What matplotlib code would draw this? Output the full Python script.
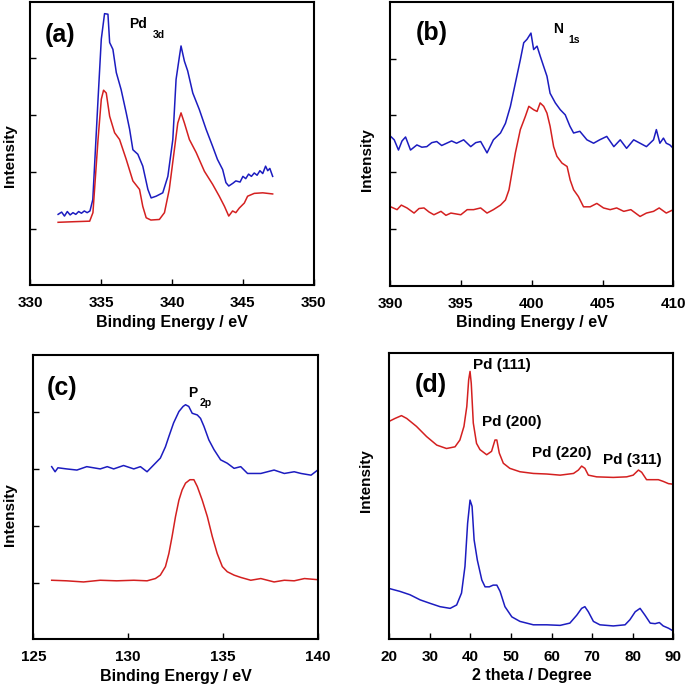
import numpy as np
import matplotlib.pyplot as plt

plt.rcParams['font.family'] = ['Liberation Sans', 'DejaVu Sans']
plt.rcParams['font.weight'] = 'bold'

BLUE = '#1c1cc0'
RED = '#d42020'

# (a) Pd 3d XPS
pd_blue_x = [331.95, 332.2, 332.4, 332.6, 332.8, 333.0, 333.2, 333.4, 333.6, 333.8, 334.0, 334.2,
             334.4, 334.77, 335.0, 335.23, 335.47, 335.59, 335.82, 336.06, 336.4, 336.76, 337.0,
             337.23, 337.58, 337.93, 338.29, 338.52, 338.87, 339.34, 339.7, 340.05, 340.28, 340.52,
             340.63, 340.87, 341.1, 341.46, 341.92, 342.4, 342.86, 343.2, 343.57, 343.8, 344.0,
             344.3, 344.5, 344.8, 345.0, 345.2, 345.4, 345.6, 345.8, 346.0, 346.2, 346.4, 346.6,
             346.75, 346.9, 347.1]
pd_blue_y = [1.25, 1.29, 1.22, 1.30, 1.24, 1.28, 1.25, 1.30, 1.27, 1.31, 1.28, 1.31,
             1.51, 3.28, 4.34, 4.79, 4.78, 4.28, 4.16, 3.75, 3.45, 3.04, 2.75,
             2.39, 2.31, 2.10, 1.69, 1.54, 1.57, 1.63, 1.92, 2.57, 3.63, 4.04,
             4.22, 3.95, 3.78, 3.39, 3.10, 2.75, 2.45, 2.22, 2.04, 1.81, 1.75,
             1.80, 1.84, 1.82, 1.92, 1.88, 1.96, 1.92, 1.98, 1.94, 2.02, 1.97, 2.10,
             2.02, 2.06, 1.92]
pd_red_x = [331.95, 333.0, 334.18, 334.41, 334.77, 335.0, 335.16, 335.35, 335.59, 335.94, 336.29,
            336.76, 337.23, 337.7, 337.93, 338.17, 338.5, 339.1, 339.46, 339.8, 340.16, 340.4,
            340.63, 340.87, 341.22, 341.7, 342.28, 342.86, 343.33, 343.7, 344.0, 344.27, 344.5,
            344.74, 345.1, 345.33, 345.8, 346.4, 347.1]
pd_red_y = [1.11, 1.12, 1.13, 1.28, 2.57, 3.28, 3.44, 3.39, 2.98, 2.69, 2.57,
            2.22, 1.84, 1.69, 1.39, 1.19, 1.15, 1.16, 1.28, 1.69, 2.39, 2.86,
            3.04, 2.86, 2.57, 2.34, 2.01, 1.78, 1.57, 1.39, 1.22, 1.31, 1.28,
            1.36, 1.45, 1.57, 1.62, 1.63, 1.61]

# (b) N 1s XPS
n_blue_x = [390.05, 390.3, 390.6, 390.85, 391.1, 391.45, 391.9, 392.25, 392.6, 392.95, 393.3, 393.65,
            394.0, 394.35, 394.7, 395.2, 395.7, 396.05, 396.4, 396.85, 397.3, 397.8, 398.15, 398.5,
            398.85, 399.2, 399.44, 399.67, 399.95, 400.14, 400.38, 400.61, 400.85, 401.08, 401.3,
            401.67, 402.02, 402.37, 402.7, 402.96, 403.4, 403.9, 404.37, 404.8, 405.3, 405.8,
            406.25, 406.7, 407.2, 407.65, 408.1, 408.6, 408.8, 409.05, 409.3, 409.5, 409.75, 410.0]
n_blue_y = [2.63, 2.57, 2.39, 2.55, 2.62, 2.39, 2.48, 2.44, 2.45, 2.52, 2.54, 2.47,
            2.51, 2.55, 2.51, 2.57, 2.45, 2.52, 2.54, 2.34, 2.57, 2.69, 2.86, 3.16,
            3.57, 3.98, 4.28, 4.34, 4.45, 4.16, 4.22, 4.04, 3.86, 3.69, 3.39,
            3.22, 3.10, 3.01, 2.81, 2.69, 2.72, 2.57, 2.51, 2.57, 2.63, 2.45,
            2.57, 2.42, 2.57, 2.51, 2.45, 2.57, 2.75, 2.51, 2.60, 2.51, 2.48, 2.42]
n_red_x = [390.05, 390.5, 390.8, 391.2, 391.7, 392.05, 392.4, 392.75, 393.1, 393.6, 393.95, 394.3,
           395.0, 395.45, 395.9, 396.4, 396.85, 397.3, 397.8, 398.15, 398.4, 398.6, 398.85, 399.2,
           399.55, 399.8, 400.14, 400.38, 400.6, 400.85, 401.08, 401.3, 401.55, 401.78, 402.14,
           402.5, 402.72, 402.96, 403.3, 403.66, 404.13, 404.6, 405.07, 405.54, 406.0, 406.5,
           407.0, 407.65, 408.1, 408.6, 409.0, 409.5, 410.0]
n_red_y = [1.39, 1.34, 1.42, 1.37, 1.28, 1.36, 1.37, 1.30, 1.25, 1.31, 1.24, 1.28,
           1.25, 1.34, 1.34, 1.37, 1.28, 1.34, 1.42, 1.51, 1.69, 1.98, 2.34, 2.75,
           2.98, 3.16, 3.10, 3.07, 3.22, 3.16, 3.04, 2.81, 2.45, 2.28, 2.16,
           2.10, 1.86, 1.69, 1.57, 1.39, 1.39, 1.45, 1.37, 1.34, 1.37, 1.31,
           1.34, 1.22, 1.28, 1.31, 1.37, 1.28, 1.34]

# (c) P 2p XPS
p_blue_x = [125.97, 126.15, 126.3, 126.76, 127.3, 127.82, 128.53, 128.9, 129.24, 129.76, 130.3,
            130.65, 131.0, 131.35, 131.7, 131.97, 132.15, 132.4, 132.68, 132.9, 133.03, 133.2,
            133.38, 133.65, 133.82, 134.0, 134.26, 134.53, 134.88, 135.23, 135.59, 135.94, 136.3,
            136.65, 137.0, 137.7, 138.24, 138.76, 139.12, 139.65, 140.0]
p_blue_y = [3.04, 2.95, 3.02, 3.00, 2.98, 3.04, 3.00, 3.04, 3.00, 3.06, 3.00,
            3.04, 2.95, 3.07, 3.19, 3.39, 3.57, 3.81, 4.01, 4.10, 4.13, 4.10,
            3.98, 3.95, 3.89, 3.75, 3.51, 3.34, 3.16, 3.10, 3.01, 3.04, 2.92,
            2.92, 2.92, 2.98, 2.92, 2.95, 2.92, 2.89, 2.98]
p_red_x = [125.97, 126.76, 127.65, 128.53, 129.4, 130.3, 131.0, 131.44, 131.7, 131.97, 132.15,
           132.32, 132.5, 132.68, 132.85, 133.03, 133.26, 133.47, 133.65, 133.91, 134.18, 134.44,
           134.7, 134.97, 135.23, 135.59, 135.94, 136.47, 137.0, 137.7, 138.24, 138.76, 139.3,
           140.0]
p_red_y = [1.04, 1.03, 1.01, 1.04, 1.03, 1.04, 1.03, 1.07, 1.13, 1.28, 1.51,
           1.81, 2.16, 2.45, 2.63, 2.75, 2.81, 2.81, 2.69, 2.45, 2.16, 1.81,
           1.51, 1.28, 1.19, 1.13, 1.09, 1.04, 1.07, 1.01, 1.04, 1.03, 1.07,
           1.05]

# (d) XRD
xrd_red_x = [20.0, 21.4, 23.0, 24.3, 26.7, 29.2, 31.7, 34.1, 36.2, 37.4, 38.4, 39.1, 39.56, 39.9,
             40.2, 40.7, 41.5, 42.35, 44.0, 45.2, 46.05, 46.5, 47.1, 48.1, 49.7, 52.2, 55.5,
             58.8, 62.1, 65.4, 66.6, 67.4, 68.2, 69.05, 71.1, 75.2, 78.5, 80.1, 81.4, 82.2,
             83.4, 85.5, 86.3, 87.5, 88.8, 90.0]
xrd_red_y = [3.84, 3.89, 3.94, 3.89, 3.75, 3.57, 3.42, 3.36, 3.39, 3.51, 3.75, 4.10, 4.57, 4.72,
             4.51, 3.81, 3.45, 3.34, 3.25, 3.31, 3.51, 3.51, 3.28, 3.10, 3.01, 2.95, 2.92,
             2.91, 2.89, 2.92, 2.98, 3.05, 3.01, 2.89, 2.86, 2.85, 2.86, 2.89, 2.98, 2.94,
             2.81, 2.81, 2.81, 2.78, 2.74, 2.73]
xrd_blue_x = [20.0, 22.6, 25.1, 27.6, 30.0, 32.5, 35.0, 36.6, 37.8, 38.65, 39.3, 39.9, 40.4, 40.9,
              41.7, 42.8, 43.6, 44.65, 45.6, 46.5, 47.3, 48.5, 50.2, 52.2, 55.5, 58.8, 62.1,
              64.5, 66.2, 67.4, 68.2, 69.05, 70.3, 71.9, 75.2, 78.1, 79.3, 80.6, 81.8, 83.0,
              84.3, 85.5, 86.55, 87.5, 88.8, 90.0]
xrd_blue_y = [0.89, 0.84, 0.78, 0.69, 0.63, 0.57, 0.54, 0.60, 0.81, 1.28, 2.04, 2.45, 2.34, 1.75,
              1.39, 1.04, 0.92, 0.92, 0.95, 0.95, 0.84, 0.57, 0.39, 0.31, 0.25, 0.25, 0.24,
              0.28, 0.42, 0.54, 0.57, 0.48, 0.31, 0.25, 0.23, 0.25, 0.34, 0.48, 0.54, 0.42,
              0.28, 0.27, 0.29, 0.23, 0.19, 0.14]

xrd_labels = ['Pd (111)', 'Pd (200)', 'Pd (220)', 'Pd (311)']

fig = plt.figure(figsize=(6.85, 6.89), dpi=100)
ax_a = fig.add_axes([0.0445, 0.586, 0.4135, 0.4115])
ax_b = fig.add_axes([0.5693, 0.5853, 0.4137, 0.412])
ax_c = fig.add_axes([0.0486, 0.0721, 0.4152, 0.4122])
ax_d = fig.add_axes([0.5683, 0.0726, 0.4147, 0.4155])


def style(ax, xlim, xticks, ylab_pos, ylim=(0, 5.0), yticks=(1, 2, 3, 4),
          xlabel='Binding Energy / eV'):
    ax.set_xlim(*xlim)
    ax.set_ylim(*ylim)
    ax.set_xticks(xticks)
    ax.set_yticks(yticks)
    ax.set_yticklabels([])
    ax.tick_params(direction='in', length=4, width=1.0, labelsize=11, pad=8)
    for s in ax.spines.values():
        s.set_linewidth(1.5)
    ax.set_xlabel(xlabel, fontsize=11.5, fontweight='bold', labelpad=3)
    ax.set_ylabel('Intensity', fontsize=11, fontweight='bold')
    ax.yaxis.set_label_coords(*ylab_pos)
    for lab in ax.get_xticklabels():
        lab.set_fontweight('bold')


lw = 1.1
ax_a.plot(pd_blue_x, pd_blue_y, color=BLUE, lw=lw)
ax_a.plot(pd_red_x, pd_red_y, color=RED, lw=lw)
style(ax_a, (330, 350), [330, 335, 340, 345, 350], (-0.047, 0.457))
ax_a.text(331.0, 4.42, '(a)', fontsize=18, fontweight='bold', va='center')
ax_a.text(337.0, 4.6, 'Pd', fontsize=10, fontweight='bold', va='center')
ax_a.text(338.65, 4.42, '3d', fontsize=7.5, fontweight='bold', va='center')

ax_b.plot(n_blue_x, n_blue_y, color=BLUE, lw=lw)
ax_b.plot(n_red_x, n_red_y, color=RED, lw=lw)
style(ax_b, (390, 410), [390, 395, 400, 405, 410], (-0.058, 0.443))
ax_b.text(391.8, 4.45, '(b)', fontsize=18, fontweight='bold', va='center')
ax_b.text(401.5, 4.53, 'N', fontsize=10, fontweight='bold', va='center')
ax_b.text(402.6, 4.33, '1s', fontsize=7.5, fontweight='bold', va='center')

ax_c.plot(p_blue_x, p_blue_y, color=BLUE, lw=lw)
ax_c.plot(p_red_x, p_red_y, color=RED, lw=lw)
style(ax_c, (125, 140), [125, 130, 135, 140], (-0.056, 0.441))
ax_c.text(125.7, 4.42, '(c)', fontsize=18, fontweight='bold', va='center')
ax_c.text(133.15, 4.34, 'P', fontsize=10, fontweight='bold', va='center')
ax_c.text(133.78, 4.16, '2p', fontsize=7.5, fontweight='bold', va='center')

ax_d.plot(xrd_red_x, xrd_red_y, color=RED, lw=lw)
ax_d.plot(xrd_blue_x, xrd_blue_y, color=BLUE, lw=lw)
style(ax_d, (20, 90), [20, 30, 40, 50, 60, 70, 80, 90], (-0.058, 0.555),
      ylim=(0, 5.05), yticks=[], xlabel='2 theta / Degree')
ax_d.text(26.3, 4.48, '(d)', fontsize=18, fontweight='bold', va='center')
for lab, lx, ly in zip(xrd_labels, [40.6, 42.85, 55.2, 72.7], [4.83, 3.83, 3.28, 3.16]):
    ax_d.text(lx, ly, lab, fontsize=11, fontweight='bold', va='center')

fig.savefig('out.png', dpi=100)
